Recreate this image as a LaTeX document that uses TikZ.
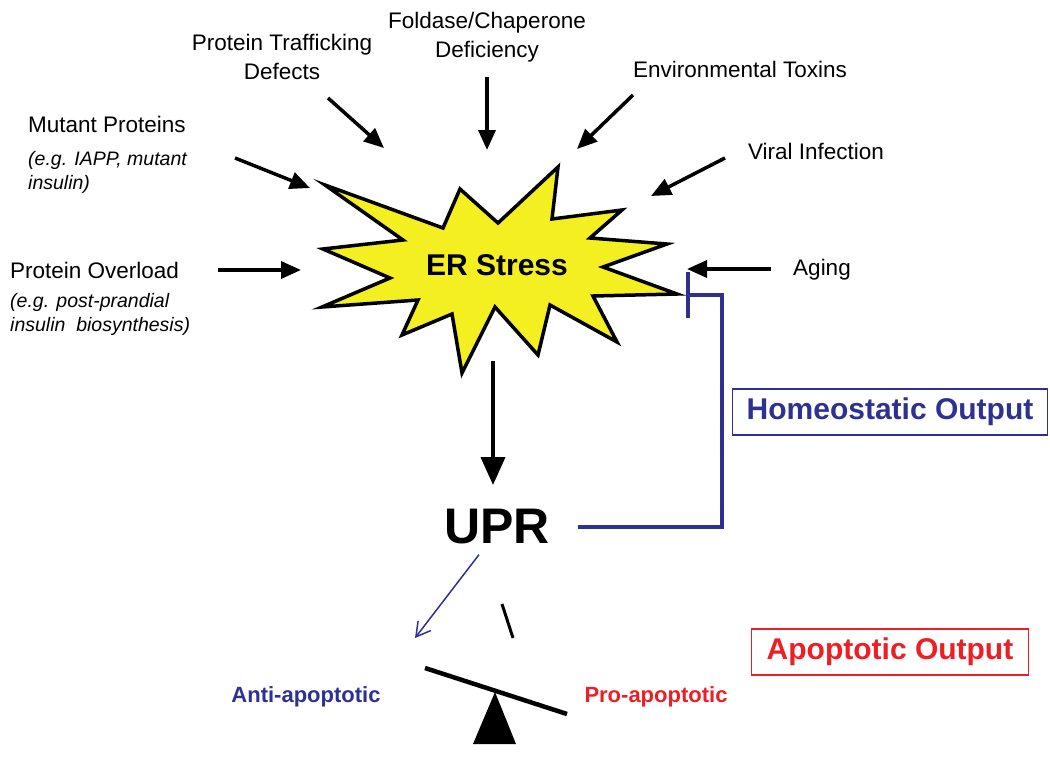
\documentclass[tikz,border=0pt]{standalone}
\usepackage{fontspec}
\setmainfont{Liberation Sans}
\usetikzlibrary{arrows.meta,positioning}
\definecolor{burst}{RGB}{243,239,33}
\definecolor{homeo}{RGB}{46,49,146}
\definecolor{apop}{RGB}{237,30,36}

\begin{document}
\begin{tikzpicture}[x=1pt,y=-1pt]
\tikzset{CauseStyle/.style = {font=\fontsize{22.5}{29}\selectfont, align=center, inner sep=0pt}}
\tikzset{NoteStyle/.style = {font=\fontsize{19.5}{23.5}\selectfont\itshape, align=left, inner sep=0pt}}
\tikzset{ArrowStyle/.style = {-{Triangle[length=20pt,width=17pt]}, line width=3.5pt}}
\tikzset{OutputStyle/.style = {draw, line width=1.5pt, minimum height=46pt, font=\fontsize{30}{36}\selectfont\bfseries}}
\tikzset{SideStyle/.style = {font=\fontsize{22}{26}\selectfont\bfseries, inner sep=0pt}}
\useasboundingbox (0,0) rectangle (1050,756);
% causes
\node[CauseStyle] (traf) at (282,57) {Protein Trafficking\\Defects};
\node[CauseStyle] (fold) at (487,37) {Foldase/Chaperone\\Deficiency};
\node[CauseStyle] (env) at (740,69) {Environmental Toxins};
\node[CauseStyle] (viral) at (816,151) {Viral Infection};
\node[CauseStyle] (aging) at (822,270) {Aging};
\node[CauseStyle, anchor=west] (mut) at (28,124) {Mutant Proteins};
\node[NoteStyle, below=19pt of mut.south west, anchor=north west] (mutnote) {(e.g. IAPP, mutant\\insulin)};
\node[CauseStyle, anchor=west] (over) at (10,270) {Protein Overload};
\node[NoteStyle, below=15pt of over.south west, anchor=north west] (overnote) {(e.g. post-prandial\\insulin\ \ biosynthesis)};
% arrows into the burst
\coordinate (trafT) at (328,98);   \coordinate (trafH) at (384,148);
\coordinate (foldT) at (487,77);   \coordinate (foldH) at (487,150);
\coordinate (envT) at (633,95);    \coordinate (envH) at (577,149);
\coordinate (mutT) at (235,158);   \coordinate (mutH) at (310,188);
\coordinate (viralT) at (725,158); \coordinate (viralH) at (651,196);
\coordinate (overT) at (218,270);  \coordinate (overH) at (301,270);
\coordinate (agingT) at (771,269); \coordinate (agingH) at (687,269);
\foreach \c in {traf,fold,env,mut,viral,over,aging}
  \draw[ArrowStyle] (\c T) -- (\c H);
% ER stress burst
\draw[fill=burst, line width=3.5pt]
  (325,185) -- (443,228) -- (460,189) -- (498,223) -- (558,167) -- (552,219)
  -- (622,210) -- (590,238) -- (667,244) -- (603,267) -- (677,294) -- (593,296)
  -- (617,342) -- (550,305) -- (538,355) -- (495,307) -- (462,373) -- (452,314)
  -- (402,335) -- (418,300) -- (322,307) -- (390,278) -- (323,249) -- (403,240) -- cycle;
\node[font=\fontsize{30}{36}\selectfont\bfseries, inner sep=0pt] (er) at (497,265) {ER Stress};
% UPR
\node[font=\fontsize{50}{60}\selectfont\bfseries, inner sep=0pt] (upr) at (497,527) {UPR};
\coordinate (uprT) at (493,361); \coordinate (uprH) at (493,485);
\draw[ArrowStyle, line width=4pt, -{Triangle[length=28pt,width=24pt]}] (uprT) -- (uprH);
% homeostatic feedback
\coordinate (bend) at (722,295); \coordinate (inhib) at (686,295);
\draw[homeo, line width=4pt, -{Bar[width=46pt]}] ([xshift=28pt]upr.east) -| (bend) -- (inhib);
\node[OutputStyle, draw=homeo, text=homeo, minimum width=315pt] (homeobox) at (890,412) {Homeostatic Output};
% balance
\coordinate (antiH) at (415,638);
\draw[homeo, line width=1.5pt, -{Straight Barb[length=14pt,width=16pt]}] ([xshift=-18pt,yshift=-10pt]upr.south) -- (antiH);
\draw[line width=3pt] (502,604) -- (513,638);
\draw[line width=4.5pt] (425,668) -- (567,714);
\fill (495,692) -- (473,744) -- (516,744) -- cycle;
\node[SideStyle, text=homeo] (anti) at (306,697) {Anti-apoptotic};
\node[SideStyle, text=apop] (pro) at (656,697) {Pro-apoptotic};
\node[OutputStyle, draw=apop, text=apop, minimum width=277pt] (apopbox) at (890,652) {Apoptotic Output};
\end{tikzpicture}
\end{document}
